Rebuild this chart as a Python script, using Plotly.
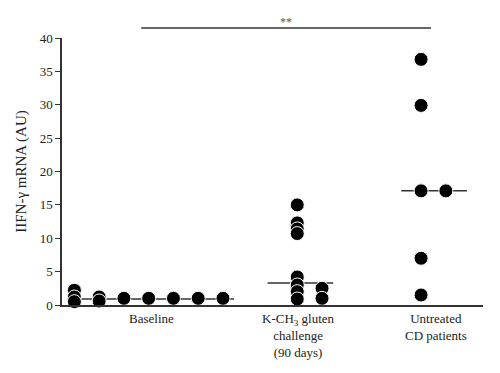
import plotly.graph_objects as go

# ---- data ----
groups = ["Baseline", "K-CH<sub>3</sub> gluten<br>challenge<br>(90 days)", "Untreated<br>CD patients"]
group_label_x = [3.6, 9.55, 15.1]

baseline_values = [2.2, 1.2, 0.5, 1.2, 0.6, 1.0, 1.0, 1.0, 1.0, 1.0]
baseline_column = [0, 0, 0, 1, 1, 2, 3, 4, 5, 6]

kch3_values = [15.0, 12.3, 11.4, 10.7, 4.2, 3.0, 2.0, 0.9, 2.5, 1.0]
kch3_column = [0, 0, 0, 0, 0, 0, 0, 0, 1, 1]

untreated_values = [36.8, 29.9, 17.1, 7.0, 1.5, 17.1]
untreated_column = [0, 0, 0, 0, 0, 1]

medians = [0.9, 3.3, 17.1]

y_ticks = [0, 5, 10, 15, 20, 25, 30, 35, 40]
signif_text = "**"

# ---- layout helpers (positions on a numeric x axis) ----
group_first_col = [0.5, 9.5, 14.5]
median_spans = [(0.2, 6.95), (8.3, 10.95), (13.7, 16.35)]
signif_span = (3.2, 14.9)

font_family = "Liberation Serif, Times New Roman, serif"

fig = go.Figure()

all_sets = [(baseline_values, baseline_column),
            (kch3_values, kch3_column),
            (untreated_values, untreated_column)]

# median lines first (below markers)
for (x0, x1), m in zip(median_spans, medians):
    fig.add_trace(go.Scatter(x=[x0, x1], y=[m, m], mode="lines",
                             line=dict(color="#333333", width=1.5),
                             hoverinfo="skip", showlegend=False))

for gi, (vals, cols) in enumerate(all_sets):
    xs = [group_first_col[gi] + c for c in cols]
    fig.add_trace(go.Scatter(x=xs, y=vals, mode="markers",
                             marker=dict(size=14, color="black",
                                         line=dict(color="white", width=1)),
                             cliponaxis=False, showlegend=False))

# significance bar above plot
fig.add_shape(type="line", xref="x", yref="paper",
              x0=signif_span[0], x1=signif_span[1], y0=1.037, y1=1.037,
              line=dict(color="#333333", width=1.5))
fig.add_annotation(x=(signif_span[0] + signif_span[1]) / 2, xref="x",
                   y=1.037, yref="paper", text=signif_text, showarrow=False,
                   yanchor="bottom", yshift=-3,
                   font=dict(family=font_family, size=12, color="#555555"))

# category labels
for lx, lab in zip(group_label_x, groups):
    fig.add_annotation(x=lx, xref="x", y=0, yref="paper", text=lab,
                       showarrow=False, yanchor="top", yshift=-4,
                       font=dict(family=font_family, size=13, color="#222222"),
                       align="center")

# the page body has an 8px margin, so the figure is offset by 8px
fig.update_layout(
    width=492, height=365,
    margin=dict(l=52, r=17, t=30, b=68),
    plot_bgcolor="white", paper_bgcolor="white",
    font=dict(family=font_family, size=13, color="#222222"),
    xaxis=dict(range=[0, 17], showgrid=False, zeroline=False,
               showticklabels=False, ticks="",
               showline=True, linecolor="#333333", linewidth=1.5),
    yaxis=dict(range=[0, 40], tickvals=y_ticks, showgrid=False, zeroline=False,
               ticks="outside", ticklen=5, tickcolor="#333333", tickwidth=1,
               showline=True, linecolor="#333333", linewidth=1.5,
               title=dict(text="IIFN-γ mRNA (AU)", standoff=9,
                          font=dict(family=font_family, size=15))),
)

fig.write_html("out.html")
